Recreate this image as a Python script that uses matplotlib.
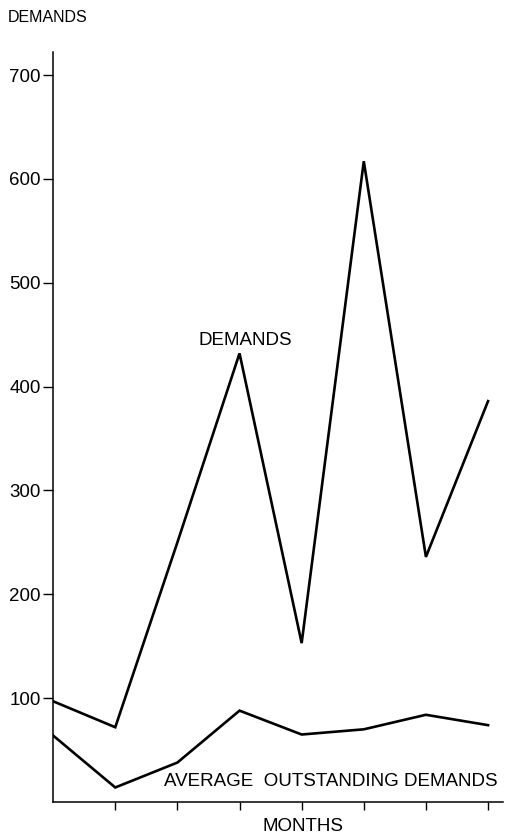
import matplotlib
matplotlib.use("Agg")
import matplotlib.pyplot as plt

plt.rcParams['font.family'] = ['Liberation Sans', 'DejaVu Sans']

months = [0, 1, 2, 3, 4, 5, 6, 7]
demands = [97, 72, 250, 432, 153, 617, 236, 386]
avg_outstanding = [64, 14, 38, 88, 65, 70, 84, 74]
y_ticks = [100, 200, 300, 400, 500, 600, 700]

fig = plt.figure(figsize=(5.06, 8.35), dpi=100)
ax = fig.add_axes([0.105, 0.0395, 0.889, 0.898])

ax.plot(months, demands, color='black', lw=1.9, solid_joinstyle='miter')
ax.plot(months, avg_outstanding, color='black', lw=1.9, solid_joinstyle='miter')

ax.set_xlim(0, 7.24)
ax.set_ylim(0, 722)
ax.set_xticks(months[1:])
ax.set_xticklabels([])
ax.set_yticks(y_ticks)
ax.set_yticklabels([str(v) for v in y_ticks], fontsize=13.5)
ax.tick_params(axis='y', direction='out', length=7, width=1, pad=2)
ax.tick_params(axis='x', direction='out', length=6, width=1)

for s in ['top', 'right']:
    ax.spines[s].set_visible(False)
ax.spines['left'].set_linewidth(1.1)
ax.spines['bottom'].set_linewidth(1.1)

fig.text(0.016, 0.979, 'DEMANDS', fontsize=11.5, ha='left', va='center')
ax.text(3.09, 444, 'DEMANDS', fontsize=13.5, ha='center', va='center')
ax.text(7.16, 20, 'AVERAGE  OUTSTANDING DEMANDS', fontsize=13.5, ha='right', va='center')
fig.text(0.598, 0.010, 'MONTHS', fontsize=13.5, ha='center', va='center')

fig.savefig('out.png', dpi=100)
